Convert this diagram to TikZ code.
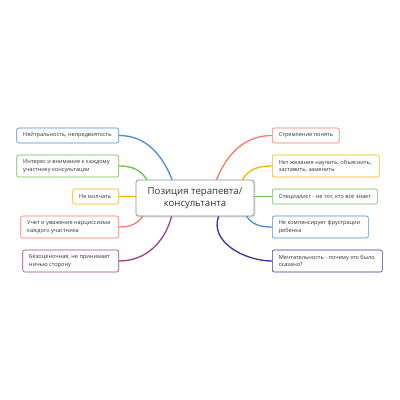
\documentclass[tikz,border=0pt]{standalone}
\usepackage{fontspec}
\setmainfont{Open Sans}
\usetikzlibrary{calc}
\pgfdeclarelayer{background}
\pgfsetlayers{background,main}
\definecolor{cblue}{HTML}{4A8BDF}
\definecolor{cgreen}{HTML}{6ABF4B}
\definecolor{corange}{HTML}{F8B500}
\definecolor{cred}{HTML}{F97A68}
\definecolor{cpurple}{HTML}{9A3F93}
\definecolor{cindigo}{HTML}{40309A}
\definecolor{txt}{HTML}{333333}
\definecolor{cborder}{HTML}{8592A0}
\tikzset{
  leaf/.style={draw=#1, line width=0.6pt, fill=white, rounded corners=2pt,
    font=\fontsize{5.6}{7.4}\selectfont, text=txt, align=left,
    inner xsep=0pt, inner ysep=0pt},
  lnode/.style={leaf=#1, anchor=east},
  rnode/.style={leaf=#1, anchor=west},
  branch/.style={draw=#1, line width=1.3pt, line cap=round},
  center/.style={draw=cborder, line width=0.8pt, fill=white, rounded corners=2.5pt,
    font=\fontsize{9.6}{12}\selectfont, text=txt, align=center,
    minimum width=118pt, minimum height=36pt, inner sep=0pt},
}
\newcommand{\leafbox}[3]{\parbox[c][#2][c]{#1}{\hspace*{6.5pt}\begin{minipage}{\dimexpr#1-12pt}\raggedright #3\end{minipage}}}
\begin{document}
\begin{tikzpicture}[x=1pt,y=1pt]
\useasboundingbox (0,0) rectangle (400,400);
\node[center] (c) at (195,202) {Позиция терапевта/\\консультанта};

% left nodes
\node[lnode=cblue] (l1) at (119,264.5) {\leafbox{102pt}{15pt}{Нейтральность, непредвзятость}};
\node[lnode=cgreen] (l2) at (119,234) {\leafbox{102pt}{22pt}{Интерес и внимание к каждому\\участнику консультации}};
\node[lnode=corange] (l3) at (119,203.5) {\leafbox{46pt}{15pt}{Не молчать}};
\node[lnode=cred] (l4) at (119,173) {\leafbox{98pt}{22pt}{Учет и уважение нарциссизма\\каждого участника}};
\node[lnode=cpurple] (l5) at (119,139) {\leafbox{96pt}{22pt}{Безоценочная, не принимает\\ничью сторону}};

% right nodes
\node[rnode=cred] (r1) at (272,264.5) {\leafbox{67pt}{15pt}{Стремление понять}};
\node[rnode=corange] (r2) at (272,234) {\leafbox{107pt}{22pt}{Нет желания научить, объяснить,\\заставить, заменить}};
\node[rnode=cgreen] (r3) at (272,203.5) {\leafbox{105pt}{15pt}{Специалист - не тот, кто всё знает}};
\node[rnode=cblue] (r4) at (272,173) {\leafbox{96pt}{22pt}{Не компенсирует фрустрации\\ребенка}};
\node[rnode=cindigo] (r5) at (272,139) {\leafbox{110pt}{22pt}{Мечтательность - почему это было\\сказано?}};

% attachment points on center node
\coordinate (cl1) at ($(c.north west)+(36.5,0)$);
\coordinate (cl2) at ($(c.north west)+(11,0)$);
\coordinate (cl3) at (c.west |- l3.east);
\coordinate (cl4) at ($(c.south west)+(7,0)$);
\coordinate (cl5) at ($(c.south west)+(36,0)$);
\coordinate (cr1) at ($(c.north west)+(81,0)$);
\coordinate (cr2) at ($(c.north west)+(107,0)$);
\coordinate (cr3) at (c.east |- r3.west);
\coordinate (cr4) at ($(c.south west)+(111,0)$);
\coordinate (cr5) at ($(c.south west)+(83,0)$);

\begin{pgfonlayer}{background}
\fill[white] (0,0) rectangle (400,400);
\fill[black!10, rounded corners=2.5pt] ($(c.south west)+(1.2,-1.2)$) rectangle ($(c.north east)+(1.2,-1.2)$);
\draw[branch=cblue] (cl1) to[out=112,in=0] (l1.east);
\draw[branch=cgreen] (cl2) to[out=120,in=0] (l2.east);
\draw[branch=corange] (cl3) -- (l3.east);
\draw[branch=cred] (cl4) to[out=-125,in=0] (l4.east);
\draw[branch=cpurple] (cl5) to[out=-105,in=0] (l5.east);
\draw[branch=cred] (cr1) to[out=68,in=180] (r1.west);
\draw[branch=corange] (cr2) to[out=60,in=180] (r2.west);
\draw[branch=cgreen] (cr3) -- (r3.west);
\draw[branch=cblue] (cr4) to[out=-55,in=180] (r4.west);
\draw[branch=cindigo] (cr5) to[out=-110,in=180] (r5.west);
\end{pgfonlayer}
\end{tikzpicture}
\end{document}
